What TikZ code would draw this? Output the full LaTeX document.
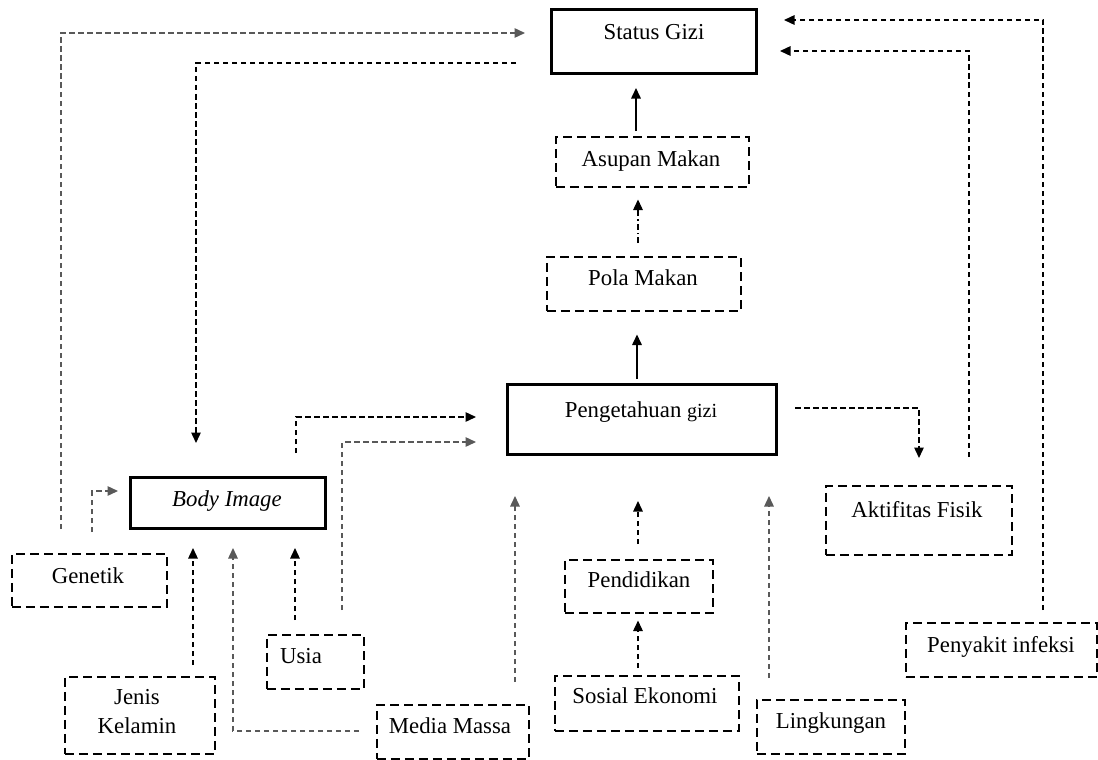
\documentclass[tikz,border=0pt]{standalone}
\usepackage{fontspec}
\setmainfont{Liberation Serif}
\usetikzlibrary{arrows.meta}
\newcommand{\fsz}{\fontsize{22.8}{27}\selectfont}
\tikzset{
  thickbox/.style={draw, line width=3pt, inner sep=0pt, anchor=north west},
  dbox/.style={draw, line width=1.5pt, dash pattern=on 9pt off 5pt, inner sep=0pt, anchor=north west},
  lbl/.style={font=\fsz, anchor=base, inner sep=0pt},
  tip/.style={-{Triangle[length=10.5pt,width=9.5pt]}},
  darr/.style={tip, line width=1.4pt, dash pattern=on 5.5pt off 3.5pt},
  garr/.style={darr, draw=black!65},
  ddarr/.style={tip, line width=1.4pt, dash pattern=on 6pt off 3pt on 1.5pt off 3pt},
  sarr/.style={tip, line width=1.6pt}
}
\begin{document}
\begin{tikzpicture}[x=1pt, y=-1pt]
\fill[white] (0,0) rectangle (1098,760);
\useasboundingbox (0,0) rectangle (1098,760);

% boxes
\node[thickbox, minimum width=205pt, minimum height=64pt] (sg) at (550,8) {};
\node[dbox, minimum width=193pt, minimum height=50pt] (am) at (555,136) {};
\node[dbox, minimum width=194pt, minimum height=54pt] (pm) at (546,256) {};
\node[thickbox, minimum width=269pt, minimum height=70pt] (pg) at (506,383) {};
\node[thickbox, minimum width=195pt, minimum height=51pt] (bi) at (129,476) {};
\node[dbox, minimum width=155pt, minimum height=53pt] (ge) at (11,553) {};
\node[dbox, minimum width=150pt, minimum height=77pt] (jk) at (64,676) {};
\node[dbox, minimum width=97pt, minimum height=54pt] (us) at (266,634) {};
\node[dbox, minimum width=152pt, minimum height=54pt] (mm) at (376,704) {};
\node[dbox, minimum width=148pt, minimum height=53pt] (pd) at (564,559) {};
\node[dbox, minimum width=184pt, minimum height=55pt] (se) at (554,675) {};
\node[dbox, minimum width=148pt, minimum height=54pt] (li) at (756,699) {};
\node[dbox, minimum width=186pt, minimum height=69pt] (af) at (825,485) {};
\node[dbox, minimum width=191pt, minimum height=54pt] (pi) at (905,622) {};

% labels
\node[lbl] (sgt) at (654,40) {Status Gizi};
\node[lbl] (amt) at (651,166) {Asupan Makan};
\node[lbl] (pmt) at (643,285) {Pola Makan};
\node[lbl] (pgt) at (641,417) {Pengetahuan {\fontsize{20}{24}\selectfont gizi}};
\node[lbl] (bit) at (227,506) {\itshape Body Image};
\node[lbl] (get) at (88,583) {Genetik};
\node[lbl] (jkt1) at (137,704) {Jenis};
\node[lbl] (jkt2) at (137,733) {Kelamin};
\node[lbl] (ust) at (301,663) {Usia};
\node[lbl] (mmt) at (450,733) {Media Massa};
\node[lbl] (pdt) at (639,587) {Pendidikan};
\node[lbl] (set) at (645,703) {Sosial Ekonomi};
\node[lbl] (lit) at (831,728) {Lingkungan};
\node[lbl] (aft) at (917,517) {Aktifitas Fisik};
\node[lbl] (pit) at (1001,652) {Penyakit infeksi};

% connectors
\draw[sarr, shorten <=5pt, shorten >=13pt] (am.north -| 636,0) -- (sg.south -| 636,0);
\draw[ddarr, shorten <=13pt, shorten >=12pt] (pm.north -| 638,0) -- (am.south -| 638,0);
\draw[sarr, shorten <=4pt, shorten >=23pt] (pg.north -| 637,0) -- (pm.south -| 637,0);

\draw[garr, shorten <=24pt, shorten >=25pt] (ge.north -| 61,0) |- (sg.north west |- 0,33);
\draw[darr, shorten <=34pt, shorten >=33pt] (sg.south west |- 0,63) -| (bi.north -| 196,0);
\draw[garr, shorten <=21pt, shorten >=11pt] (ge.north -| 92,0) |- (bi.west |- 0,491);

\draw[darr, shorten <=11pt, shorten >=18pt] (jk.north -| 193,0) -- (bi.south -| 193,0);
\draw[garr, shorten <=17pt, shorten >=18pt] (mm.west |- 0,731) -| (bi.south -| 233,0);
\draw[darr, shorten <=14pt, shorten >=18pt] (us.north -| 295,0) -- (bi.south -| 295,0);

\draw[darr, shorten <=23pt, shorten >=30pt] (bi.north -| 296,0) |- (pg.west |- 0,417);
\draw[garr, shorten <=24pt, shorten >=30pt] (us.north -| 342,0) |- (pg.west |- 0,442);
\draw[garr, shorten <=22pt, shorten >=40pt] (mm.north -| 515,0) -- (pg.south -| 515,0);
\draw[darr, shorten <=15pt, shorten >=45pt] (pd.north -| 638,0) -- (pg.south -| 638,0);
\draw[darr, shorten <=7pt, shorten >=7pt] (se.north -| 638,0) -- (pd.south -| 638,0);
\draw[garr, shorten <=21pt, shorten >=40pt] (li.north -| 769,0) -- (pg.south -| 769,0);

\draw[darr, shorten <=17pt, shorten >=27pt] (pg.east |- 0,408) -| (af.north -| 919,0);
\draw[darr, shorten <=28pt, shorten >=22pt] (af.north -| 969,0) |- (sg.east |- 0,51);
\draw[darr, shorten <=12pt, shorten >=26pt] (pi.north -| 1043,0) |- (sg.east |- 0,20);
\end{tikzpicture}
\end{document}
